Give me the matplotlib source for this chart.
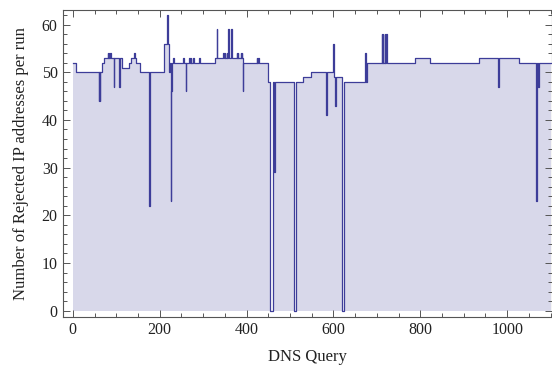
import numpy as np
import matplotlib
matplotlib.use('Agg')
import matplotlib.pyplot as plt
from matplotlib.ticker import MultipleLocator

# rejected IP counts per DNS query, stored as change points (value holds until next query)
queries = [1, 8, 60, 61, 62, 63, 66, 71, 80, 81, 83, 84, 86, 87, 94, 95, 107, 108,
           112, 130, 135, 140, 142, 146, 154, 176, 177, 209, 217, 218, 222, 224,
           226, 227, 228, 231, 232, 254, 255, 260, 261, 268, 269, 272, 273, 277,
           278, 279, 280, 291, 292, 327, 331, 332, 346, 347, 350, 351, 354, 355,
           357, 359, 364, 366, 377, 378, 380, 381, 386, 387, 389, 390, 391, 392,
           423, 424, 427, 428, 450, 454, 461, 464, 465, 510, 513, 531, 548, 583,
           584, 598, 599, 601, 604, 605, 620, 624, 673, 675, 677, 711, 712, 714,
           715, 718, 719, 722, 723, 788, 823, 936, 979, 980, 1027, 1066, 1068,
           1072, 1073, 1100]
rejected = [52, 50, 44, 50, 44, 50, 52, 53, 54, 53, 54, 53, 54, 53, 47, 53, 47, 53,
            51, 52, 53, 54, 53, 52, 50, 22, 50, 56, 62, 56, 50, 52,
            23, 46, 52, 53, 52, 53, 52, 46, 52, 53, 52, 53, 52, 53,
            52, 53, 52, 53, 52, 53, 59, 53, 54, 53, 54, 53, 54, 53,
            59, 53, 59, 53, 54, 53, 54, 53, 54, 53, 54, 53, 46, 52,
            53, 52, 53, 52, 48, 0, 48, 29, 48, 0, 48, 49, 50, 41,
            50, 55, 56, 49, 43, 49, 0, 48, 54, 48, 52, 58, 52, 58,
            52, 58, 52, 58, 52, 53, 52, 53, 47, 53, 52, 23, 52,
            47, 52, 52]

x_ticks = [0, 200, 400, 600, 800, 1000]
y_ticks = [0, 10, 20, 30, 40, 50, 60]

line_color = '#3d3d99'
frame_color = '#555555'

plt.rcParams['font.family'] = ['Liberation Serif', 'DejaVu Serif']
plt.rcParams['font.size'] = 11.5

fig = plt.figure(figsize=(5.52, 3.72), dpi=100)
ax = fig.add_axes([63.3 / 552, 1 - 316.7 / 372, (551.5 - 63.3) / 552, (316.7 - 10) / 372])

ax.fill_between(queries, rejected, 0, step='post', color=line_color, alpha=0.2, lw=0)
ax.plot(queries, rejected, drawstyle='steps-post', color=line_color, lw=0.9)

ax.set_xlim(-22, 1102)
ax.set_ylim(-1.26, 63.06)
ax.set_xticks(x_ticks)
ax.set_yticks(y_ticks)
ax.xaxis.set_minor_locator(MultipleLocator(50))
ax.yaxis.set_minor_locator(MultipleLocator(2))

for s in ax.spines.values():
    s.set_color(frame_color)
    s.set_linewidth(0.8)
ax.tick_params(which='both', direction='in', top=True, right=True, color=frame_color,
               labelcolor='#222222', width=0.7)
ax.tick_params(which='major', length=5, pad=4)
ax.tick_params(which='minor', length=3)

ax.set_xlabel('DNS Query', fontsize=12, labelpad=8, color='#222222')
ax.set_ylabel('Number of Rejected IP addresses per run', fontsize=12, labelpad=9,
              color='#222222')

fig.savefig('out.png', dpi=100)
